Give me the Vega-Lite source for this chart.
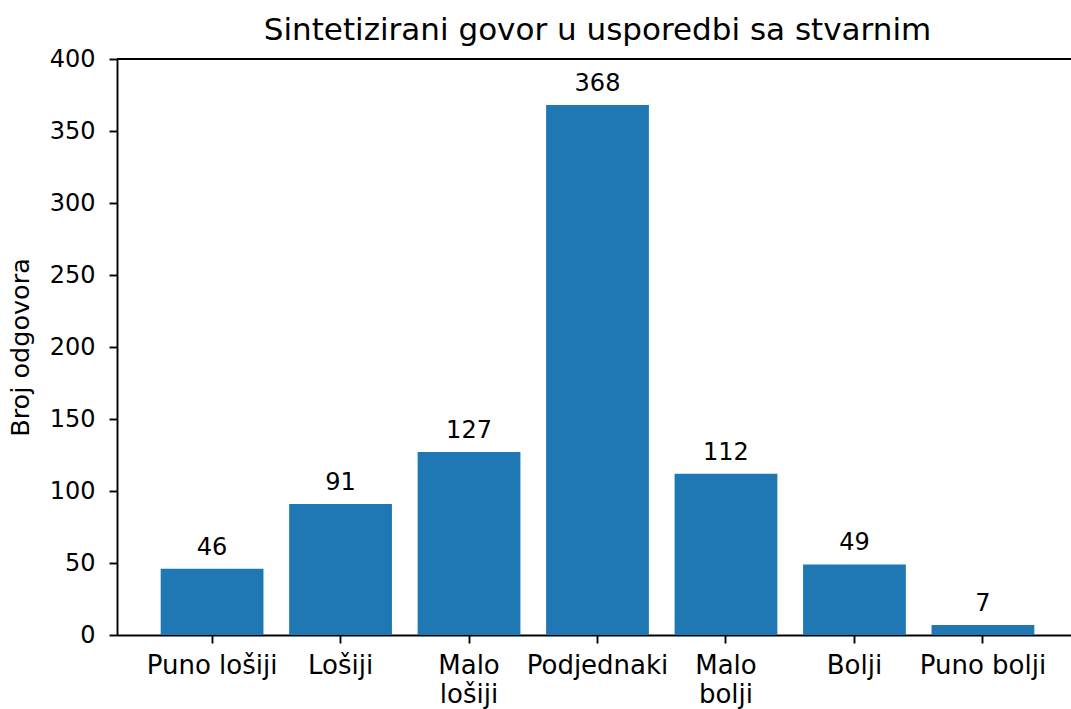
{
  "$schema": "https://vega.github.io/schema/vega-lite/v6.json",
  "autosize": "none",
  "width": 954,
  "height": 576,
  "padding": {"left": 117, "top": 59, "right": 0, "bottom": 74},
  "background": "white",
  "config": {
    "font": "DejaVu Sans",
    "view": {"stroke": null},
    "axis": {"grid": false, "domainColor": "#000", "domainWidth": 1.9, "tickColor": "#000", "tickWidth": 1.9, "tickSize": 8, "labelColor": "#000", "labelFont": "DejaVu Sans", "labelFontSize": 24, "titleFont": "DejaVu Sans", "titleFontSize": 25.5, "titleFontWeight": "normal", "titleColor": "#000"}
  },
  "title": {"text": "Sintetizirani govor u usporedbi sa stvarnim", "font": "DejaVu Sans", "fontSize": 31, "fontWeight": "normal", "color": "#000", "offset": 0, "dx": 3.5},
  "data": {"values": [
    {"kategorija": "Puno lošiji", "broj": 46},
    {"kategorija": "Lošiji", "broj": 91},
    {"kategorija": "Malo\nlošiji", "broj": 127},
    {"kategorija": "Podjednaki", "broj": 368},
    {"kategorija": "Malo\nbolji", "broj": 112},
    {"kategorija": "Bolji", "broj": 49},
    {"kategorija": "Puno bolji", "broj": 7}
  ]},
  "encoding": {
    "x": {"field": "kategorija", "type": "nominal", "sort": null,
      "scale": {"range": [0, 961], "paddingInner": 0.2, "paddingOuter": 0.34},
      "axis": {"title": null, "labelAngle": 0, "labelFontSize": 26, "labelPadding": 9, "labelLineHeight": 29, "labelExpr": "split(datum.label, '\\n')", "labelBaseline": "top"}},
    "y": {"field": "broj", "type": "quantitative",
      "scale": {"domain": [0, 400], "nice": false, "zero": true},
      "axis": {"title": "Broj odgovora", "values": [0, 50, 100, 150, 200, 250, 300, 350, 400], "labelPadding": 14, "titlePadding": 16}}
  },
  "layer": [
    {"mark": {"type": "bar", "color": "#1f77b4"}},
    {"mark": {"type": "text", "baseline": "alphabetic", "dy": -14, "fontSize": 24, "font": "DejaVu Sans", "color": "#000"}, "encoding": {"text": {"field": "broj", "type": "quantitative"}}},
    {"mark": {"type": "rule", "color": "#000", "strokeWidth": 1.9}, "encoding": {"y": {"datum": 400}, "x": {"value": 0}, "x2": {"value": 961}}}
  ]
}
